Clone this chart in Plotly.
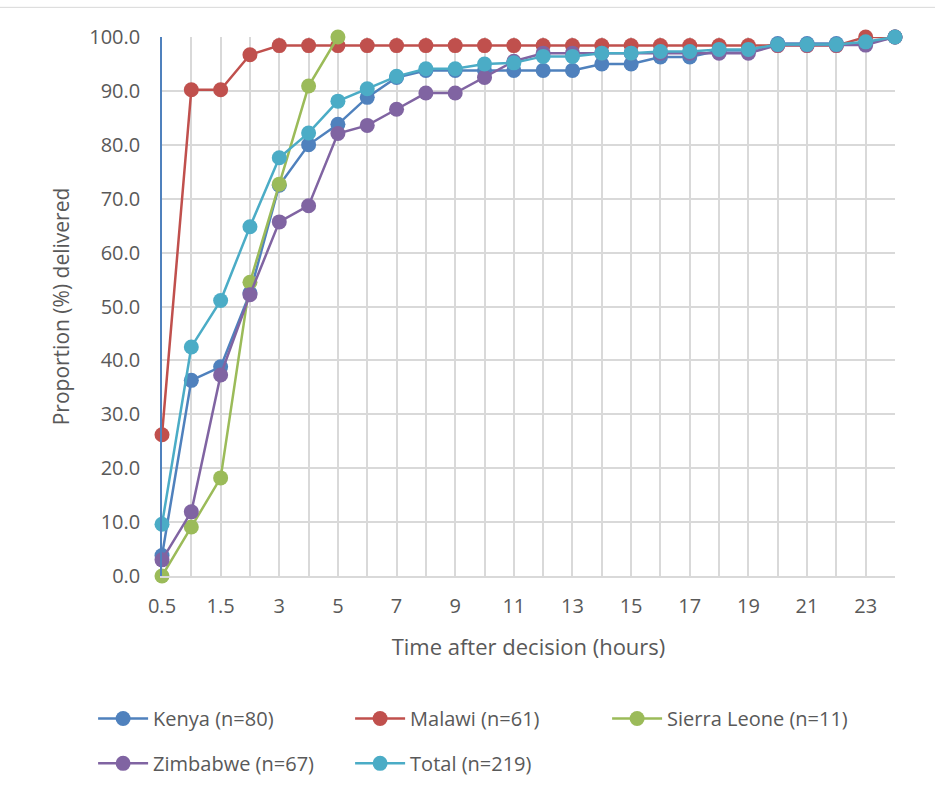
import plotly.graph_objects as go

# Time after decision (hours) - categorical axis
hours = ["0.5", "1", "1.5", "2", "3", "4", "5", "6", "7", "8", "9", "10", "11",
         "12", "13", "14", "15", "16", "17", "18", "19", "20", "21", "22", "23", "24"]

# Cumulative proportion (%) delivered, per country
kenya = [3.8, 36.3, 38.8, 52.5, 72.5, 80.0, 83.8, 88.8, 92.5, 93.8, 93.8, 93.8, 93.8,
         93.8, 93.8, 95.0, 95.0, 96.3, 96.3, 97.5, 97.5, 98.8, 98.8, 98.8, 98.8, 100.0]
malawi = [26.2, 90.2, 90.2, 96.7, 98.4, 98.4, 98.4, 98.4, 98.4, 98.4, 98.4, 98.4, 98.4,
          98.4, 98.4, 98.4, 98.4, 98.4, 98.4, 98.4, 98.4, 98.4, 98.4, 98.4, 100.0, 100.0]
sierra_leone = [0.0, 9.1, 18.2, 54.5, 72.7, 90.9, 100.0] + [None] * 19
zimbabwe = [3.0, 11.9, 37.3, 52.2, 65.7, 68.7, 82.1, 83.6, 86.6, 89.6, 89.6, 92.5, 95.5,
            97.0, 97.0, 97.0, 97.0, 97.0, 97.0, 97.0, 97.0, 98.5, 98.5, 98.5, 98.5, 100.0]
total = [9.6, 42.5, 51.1, 64.8, 77.6, 82.2, 88.1, 90.4, 92.7, 94.1, 94.1, 95.0, 95.2,
         96.4, 96.4, 97.0, 97.0, 97.3, 97.3, 97.7, 97.7, 98.6, 98.6, 98.6, 99.1, 100.0]

# (name, values, colour, legend row)
series = [
    ("Kenya (n=80)", kenya, "#4f81bd", "legend"),
    ("Malawi (n=61)", malawi, "#c0504d", "legend"),
    ("Sierra Leone (n=11)", sierra_leone, "#9bbb59", "legend"),
    ("Zimbabwe (n=67)", zimbabwe, "#8064a2", "legend2"),
    ("Total (n=219)", total, "#4bacc6", "legend2"),
]

FONT = "Open Sans"
TEXT = "#595959"

fig = go.Figure()
for name, vals, color, leg in series:
    fig.add_trace(go.Scatter(
        x=hours, y=vals, name=name, mode="lines+markers",
        line=dict(color=color, width=2.5),
        marker=dict(color=color, size=15),
        cliponaxis=False, legend=leg,
    ))

# every category gets a gridline, every other one a label
ticktext = [h if i % 2 == 0 else "" for i, h in enumerate(hours)]

legend_style = dict(
    orientation="h", x=-0.094, xanchor="left", yanchor="top",
    entrywidth=192, entrywidthmode="pixels",
    font=dict(family=FONT, size=20, color=TEXT),
    itemwidth=50, bgcolor="rgba(0,0,0,0)",
)

fig.update_layout(
    width=935, height=793,
    margin=dict(l=162, r=40, t=37, b=216),
    paper_bgcolor="white", plot_bgcolor="white",
    font=dict(family=FONT, size=18, color=TEXT),
    showlegend=True,
    legend=dict(legend_style, y=-0.226),
    legend2=dict(legend_style, y=-0.309),
    xaxis=dict(
        type="category", categoryorder="array", categoryarray=hours,
        range=[0, len(hours) - 1],
        tickmode="array", tickvals=hours, ticktext=ticktext,
        showgrid=True, gridcolor="#d9d9d9", gridwidth=1.5,
        showline=True, linecolor="#d9d9d9", linewidth=1.5,
        ticks="", ticklabelstandoff=11,
        tickfont=dict(family=FONT, size=20, color=TEXT),
        title=dict(text="Time after decision (hours)", standoff=22,
                   font=dict(family=FONT, size=22, color=TEXT)),
        zeroline=False,
    ),
    yaxis=dict(
        range=[0, 100], dtick=10, tickformat=".1f",
        showgrid=True, gridcolor="#d9d9d9", gridwidth=1.5,
        showline=True, linecolor="#4f81bd", linewidth=1.5,
        ticks="", ticklabelstandoff=16,
        tickfont=dict(family=FONT, size=20, color=TEXT),
        title=dict(text="Proportion (%) delivered", standoff=14,
                   font=dict(family=FONT, size=21, color=TEXT)),
        zeroline=False,
    ),
)

# thin frame line along the top of the chart
fig.add_shape(type="line", xref="paper", yref="paper",
              x0=-0.3, x1=1.1, y0=1.055, y1=1.055,
              line=dict(color="#d9d9d9", width=1))

fig.write_html("out.html")
